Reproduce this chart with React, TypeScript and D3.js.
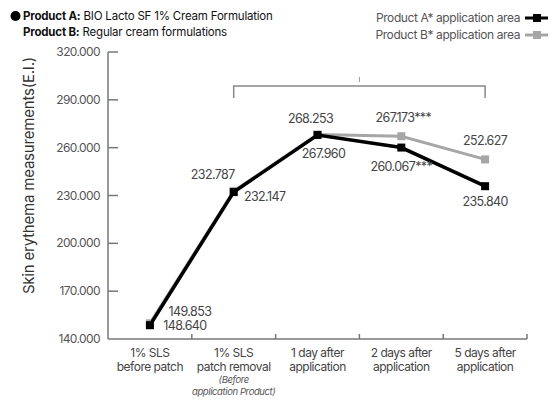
import React from 'react';
import * as d3 from 'd3';

const width = 552;
const height = 401;
const margin = { top: 52, left: 108, bottom: 62, right: 25 };

// data
const categories = ['before', 'removal', 'day1', 'day2', 'day5'];
const tickLines = [
  ['1% SLS', 'before patch'],
  ['1% SLS', 'patch removal'],
  ['1 day after', 'application'],
  ['2 days after', 'application'],
  ['5 days after', 'application'],
];
const productA = [148.64, 232.147, 267.96, 260.067, 235.84];
const productB = [149.853, 232.787, 268.253, 267.173, 252.627];
const labelsA = ['148.640', '232.147', '267.960', '260.067***', '235.840'];
const labelsB = ['149.853', '232.787', '268.253', '267.173***', '252.627'];
const yTicks = [140, 170, 200, 230, 260, 290, 320];

// label offsets (layout only)
const offA = [[35, 1], [31, 5], [6, 19], [0, 19], [0, 16]];
const offB = [[40, -11], [-21, -16], [-7, -16], [2, -18], [0, -18]];

const font = 'Inter, "Noto Sans", sans-serif';

const App = () => {
  const x = d3.scaleBand()
    .domain(categories)
    .range([margin.left, width - margin.right]);
  const y = d3.scaleLinear()
    .domain([140, 320])
    .range([height - margin.bottom, margin.top]);

  const line = d3.line<number>()
    .x((d, i) => x(categories[i])! + x.bandwidth() / 2)
    .y(d => y(d));

  const cx = (i: number) => x(categories[i])! + x.bandwidth() / 2;
  const x0 = margin.left;
  const x1 = width - margin.right;
  const yb = y(140);

  const bx0 = cx(1);
  const bx1 = cx(4);

  return (
    <svg width={width} height={height} style={{ position: 'absolute', left: 0, top: 0, background: '#fff' }}>
      {/* top-left notes */}
      <circle cx={15.5} cy={16} r={5} fill="#000" />
      <text x={23} y={20} fontFamily={font} fontSize={11.5} fill="#111" letterSpacing={-0.2}>
        <tspan fontWeight={700}>Product A:</tspan> BIO Lacto SF 1% Cream Formulation
      </text>
      <text x={23} y={36} fontFamily={font} fontSize={11.5} fill="#111" letterSpacing={-0.2}>
        <tspan fontWeight={700}>Product B:</tspan> Regular cream formulations
      </text>

      {/* legend */}
      <text x={520} y={22} textAnchor="end" fontFamily={font} fontSize={12} fill="#555" letterSpacing={-0.4}>Product A* application area</text>
      <line x1={525} x2={548} y1={18} y2={18} stroke="#000" strokeWidth={3} />
      <rect x={533} y={14} width={8} height={8} fill="#000" />
      <text x={520} y={39} textAnchor="end" fontFamily={font} fontSize={12} fill="#555" letterSpacing={-0.4}>Product B* application area</text>
      <line x1={525} x2={548} y1={35} y2={35} stroke="#a6a6a6" strokeWidth={3} />
      <rect x={533} y={31} width={8} height={8} fill="#a6a6a6" />

      {/* y title */}
      <text transform={`translate(34,${(y(140) + y(320)) / 2 - 20}) rotate(-90)`} textAnchor="middle"
        fontFamily={font} fontSize={15} fill="#333" letterSpacing={-0.2}>Skin erythema measurements(E.I.)</text>

      {/* axes */}
      <line x1={x0} x2={x0} y1={y(320)} y2={yb} stroke="#777" strokeWidth={1.5} />
      <line x1={x0} x2={x1} y1={yb} y2={yb} stroke="#777" strokeWidth={1.5} />
      {yTicks.map(t => (
        <g key={t}>
          {t !== 140 && <line x1={x0} x2={x0 + 10} y1={y(t)} y2={y(t)} stroke="#777" strokeWidth={1.5} />}
          <text x={100} y={y(t) + 4} textAnchor="end" fontFamily={font} fontSize={12} fill="#555" letterSpacing={-0.6}>
            {d3.format('.3f')(t)}
          </text>
        </g>
      ))}
      {categories.map((c, i) => (
        <g key={c}>
          <line x1={x(c)! + x.bandwidth()} x2={x(c)! + x.bandwidth()} y1={yb} y2={yb - 5} stroke="#777" strokeWidth={1.5} />
          {tickLines[i].map((s, j) => (
            <text key={j} x={cx(i)} y={357 + j * 14} textAnchor="middle" fontFamily={font} fontSize={12} fill="#444" letterSpacing={-0.5}>{s}</text>
          ))}
        </g>
      ))}
      <text x={cx(1)} y={383} textAnchor="middle" fontFamily={font} fontSize={9.5} fontStyle="italic" fill="#555" letterSpacing={-0.4}>(Before</text>
      <text x={cx(1)} y={395} textAnchor="middle" fontFamily={font} fontSize={9.5} fontStyle="italic" fill="#555" letterSpacing={-0.4}>application Product)</text>

      {/* bracket */}
      <path d={`M${bx0},98 V86 H${bx1} V98`} fill="none" stroke="#888" strokeWidth={1.5} />
      <line x1={(bx0 + bx1) / 2} x2={(bx0 + bx1) / 2} y1={77} y2={82} stroke="#999" strokeWidth={1} />

      {/* series */}
      <path d={line(productB)!} fill="none" stroke="#a6a6a6" strokeWidth={3} />
      {productB.map((v, i) => (
        <rect key={i} x={cx(i) - 4} y={y(v) - 4} width={8} height={8} fill="#a6a6a6" />
      ))}
      <path d={line(productA)!} fill="none" stroke="#000" strokeWidth={3.5} />
      {productA.map((v, i) => (
        <rect key={i} x={cx(i) - 4} y={y(v) - 4} width={8} height={8} fill="#000" />
      ))}

      {/* value labels */}
      {productB.map((v, i) => (
        <text key={'b' + i} x={cx(i) + offB[i][0]} y={y(v) + offB[i][1] + 4} textAnchor="middle"
          fontFamily={font} fontSize={12.5} fill="#444" letterSpacing={-0.6}>{labelsB[i]}</text>
      ))}
      {productA.map((v, i) => (
        <text key={'a' + i} x={cx(i) + offA[i][0]} y={y(v) + offA[i][1] + 4} textAnchor="middle"
          fontFamily={font} fontSize={12.5} fill="#444" letterSpacing={-0.6}>{labelsA[i]}</text>
      ))}
    </svg>
  );
};

export default App;
